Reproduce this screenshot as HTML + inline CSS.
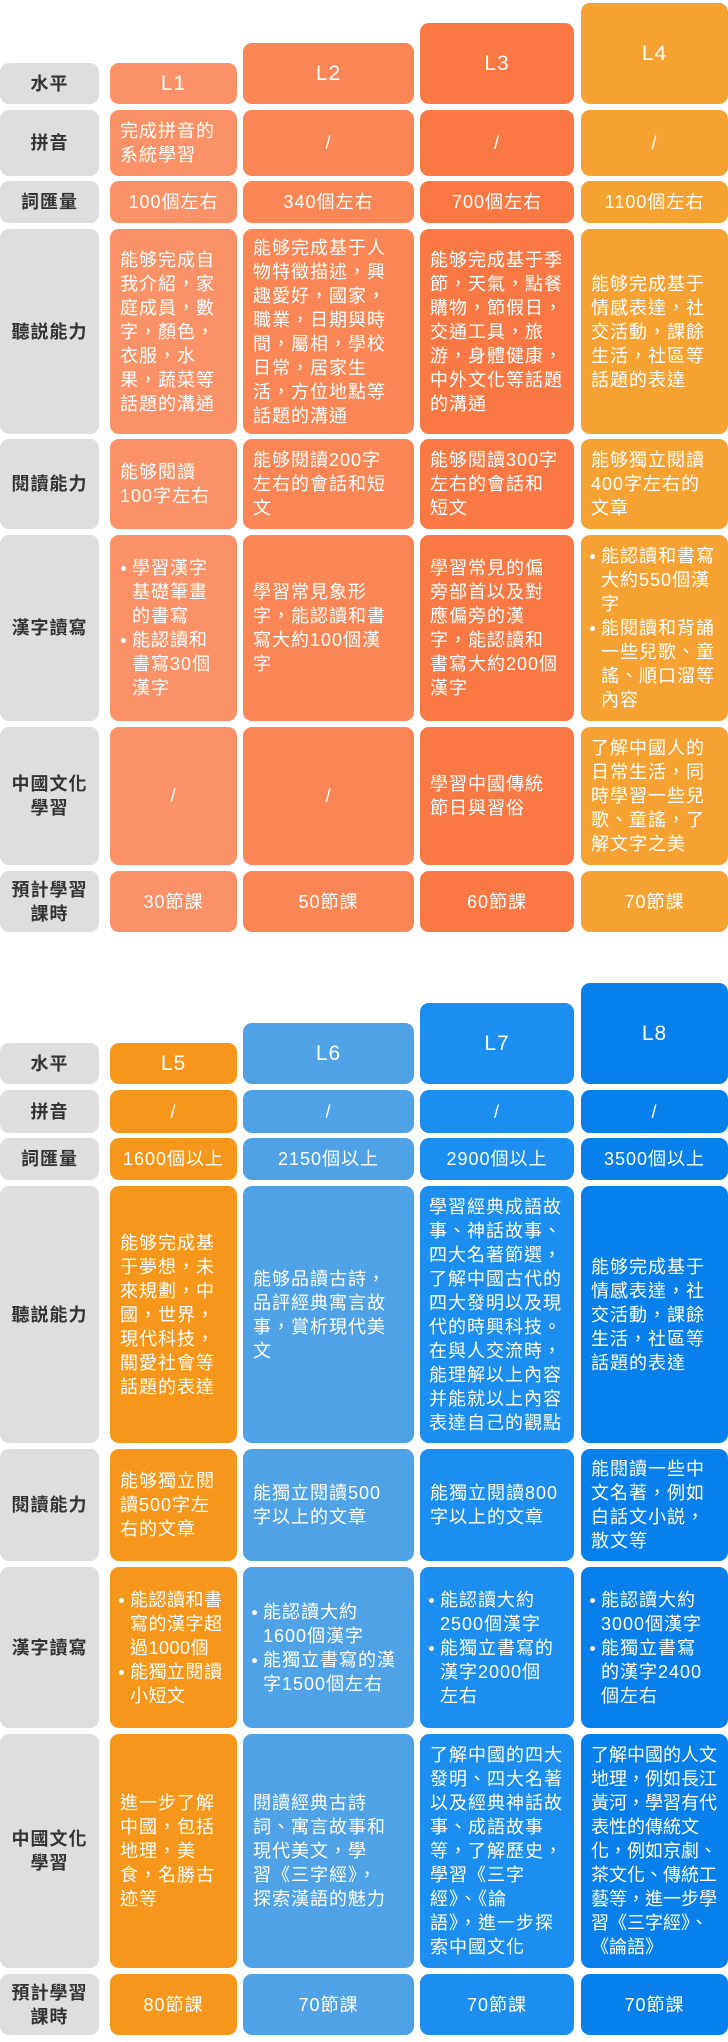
<!DOCTYPE html>
<html><head><meta charset="utf-8"><style>
*{margin:0;padding:0;box-sizing:border-box}
body{width:728px;height:2042px;background:#fff;position:relative;overflow:hidden;font-family:"Liberation Sans","Noto Sans CJK TC","Noto Sans CJK SC",sans-serif}
.c{position:absolute;border-radius:9px;display:flex;align-items:center;color:#fff;font-size:18px;line-height:24px;letter-spacing:1px;padding:0 8px 0 10px;white-space:nowrap}
.ctr{justify-content:center;text-align:center;padding:0}
.lab{background:#dedede;color:#333;justify-content:center;text-align:center;padding:0;font-size:18px;font-weight:600}
.hd{font-size:21px;justify-content:center;padding:0}
.a{background:#fb9166}.b{background:#fa8655}.d{background:#f97843}.e{background:#f6a232}
.f{background:#f6961a}.g{background:#4fa2e6}.h{background:#1b8ef0}.i{background:#0880ec}
ul{list-style:none}
li{position:relative;padding-left:12px}
li:before{content:"";position:absolute;left:1px;top:10px;width:5px;height:5px;border-radius:50%;background:#fff}
</style></head><body>
<!-- Table 1 -->
<div class="c lab" style="left:0;top:63px;width:99px;height:41px">水平</div>
<div class="c hd a" style="left:110px;top:63px;width:127px;height:41px">L1</div>
<div class="c hd b" style="left:243px;top:43px;width:171px;height:61px">L2</div>
<div class="c hd d" style="left:420px;top:23px;width:154px;height:81px">L3</div>
<div class="c hd e" style="left:581px;top:3px;width:147px;height:101px">L4</div>

<div class="c lab" style="left:0;top:110px;width:99px;height:66px">拼音</div>
<div class="c a" style="left:110px;top:110px;width:127px;height:66px">完成拼音的<br>系統學習</div>
<div class="c ctr b" style="left:243px;top:110px;width:171px;height:66px">/</div>
<div class="c ctr d" style="left:420px;top:110px;width:154px;height:66px">/</div>
<div class="c ctr e" style="left:581px;top:110px;width:147px;height:66px">/</div>

<div class="c lab" style="left:0;top:181px;width:99px;height:42px">詞匯量</div>
<div class="c ctr a" style="left:110px;top:181px;width:127px;height:42px">100個左右</div>
<div class="c ctr b" style="left:243px;top:181px;width:171px;height:42px">340個左右</div>
<div class="c ctr d" style="left:420px;top:181px;width:154px;height:42px">700個左右</div>
<div class="c ctr e" style="left:581px;top:181px;width:147px;height:42px">1100個左右</div>

<div class="c lab" style="left:0;top:229px;width:99px;height:205px">聽説能力</div>
<div class="c a" style="left:110px;top:229px;width:127px;height:205px">能够完成自<br>我介紹，家<br>庭成員，數<br>字，顏色，<br>衣服，水<br>果，蔬菜等<br>話題的溝通</div>
<div class="c b" style="left:243px;top:229px;width:171px;height:205px">能够完成基于人<br>物特徵描述，興<br>趣愛好，國家，<br>職業，日期與時<br>間，屬相，學校<br>日常，居家生<br>活，方位地點等<br>話題的溝通</div>
<div class="c d" style="left:420px;top:229px;width:154px;height:205px">能够完成基于季<br>節，天氣，點餐<br>購物，節假日，<br>交通工具，旅<br>游，身體健康，<br>中外文化等話題<br>的溝通</div>
<div class="c e" style="left:581px;top:229px;width:147px;height:205px">能够完成基于<br>情感表達，社<br>交活動，課餘<br>生活，社區等<br>話題的表達</div>

<div class="c lab" style="left:0;top:439px;width:99px;height:90px">閱讀能力</div>
<div class="c a" style="left:110px;top:439px;width:127px;height:90px">能够閱讀<br>100字左右</div>
<div class="c b" style="left:243px;top:439px;width:171px;height:90px">能够閱讀200字<br>左右的會話和短<br>文</div>
<div class="c d" style="left:420px;top:439px;width:154px;height:90px">能够閱讀300字<br>左右的會話和<br>短文</div>
<div class="c e" style="left:581px;top:439px;width:147px;height:90px">能够獨立閱讀<br>400字左右的<br>文章</div>

<div class="c lab" style="left:0;top:535px;width:99px;height:186px">漢字讀寫</div>
<div class="c a" style="left:110px;top:535px;width:127px;height:186px"><ul><li>學習漢字<br>基礎筆畫<br>的書寫</li><li>能認讀和<br>書寫30個<br>漢字</li></ul></div>
<div class="c b" style="left:243px;top:535px;width:171px;height:186px">學習常見象形<br>字，能認讀和書<br>寫大約100個漢<br>字</div>
<div class="c d" style="left:420px;top:535px;width:154px;height:186px">學習常見的偏<br>旁部首以及對<br>應偏旁的漢<br>字，能認讀和<br>書寫大約200個<br>漢字</div>
<div class="c e" style="left:581px;top:535px;width:147px;height:186px;padding-left:8px"><ul><li>能認讀和書寫<br>大約550個漢<br>字</li><li>能閱讀和背誦<br>一些兒歌、童<br>謠、順口溜等<br>內容</li></ul></div>

<div class="c lab" style="left:0;top:727px;width:99px;height:138px">中國文化<br>學習</div>
<div class="c ctr a" style="left:110px;top:727px;width:127px;height:138px">/</div>
<div class="c ctr b" style="left:243px;top:727px;width:171px;height:138px">/</div>
<div class="c d" style="left:420px;top:727px;width:154px;height:138px">學習中國傳統<br>節日與習俗</div>
<div class="c e" style="left:581px;top:727px;width:147px;height:138px">了解中國人的<br>日常生活，同<br>時學習一些兒<br>歌、童謠，了<br>解文字之美</div>

<div class="c lab" style="left:0;top:871px;width:99px;height:61px">預計學習<br>課時</div>
<div class="c ctr a" style="left:110px;top:871px;width:127px;height:61px">30節課</div>
<div class="c ctr b" style="left:243px;top:871px;width:171px;height:61px">50節課</div>
<div class="c ctr d" style="left:420px;top:871px;width:154px;height:61px">60節課</div>
<div class="c ctr e" style="left:581px;top:871px;width:147px;height:61px">70節課</div>

<!-- Table 2 -->
<div class="c lab" style="left:0;top:1043px;width:99px;height:41px">水平</div>
<div class="c hd f" style="left:110px;top:1043px;width:127px;height:41px">L5</div>
<div class="c hd g" style="left:243px;top:1023px;width:171px;height:61px">L6</div>
<div class="c hd h" style="left:420px;top:1003px;width:154px;height:81px">L7</div>
<div class="c hd i" style="left:581px;top:983px;width:147px;height:101px">L8</div>

<div class="c lab" style="left:0;top:1090px;width:99px;height:43px">拼音</div>
<div class="c ctr f" style="left:110px;top:1090px;width:127px;height:43px">/</div>
<div class="c ctr g" style="left:243px;top:1090px;width:171px;height:43px">/</div>
<div class="c ctr h" style="left:420px;top:1090px;width:154px;height:43px">/</div>
<div class="c ctr i" style="left:581px;top:1090px;width:147px;height:43px">/</div>

<div class="c lab" style="left:0;top:1138px;width:99px;height:42px">詞匯量</div>
<div class="c ctr f" style="left:110px;top:1138px;width:127px;height:42px">1600個以上</div>
<div class="c ctr g" style="left:243px;top:1138px;width:171px;height:42px">2150個以上</div>
<div class="c ctr h" style="left:420px;top:1138px;width:154px;height:42px">2900個以上</div>
<div class="c ctr i" style="left:581px;top:1138px;width:147px;height:42px">3500個以上</div>

<div class="c lab" style="left:0;top:1186px;width:99px;height:257px">聽説能力</div>
<div class="c f" style="left:110px;top:1186px;width:127px;height:257px">能够完成基<br>于夢想，未<br>來規劃，中<br>國，世界，<br>現代科技，<br>關愛社會等<br>話題的表達</div>
<div class="c g" style="left:243px;top:1186px;width:171px;height:257px">能够品讀古詩，<br>品評經典寓言故<br>事，賞析現代美<br>文</div>
<div class="c h" style="left:420px;top:1186px;width:154px;height:257px;padding-left:9px">學習經典成語故<br>事、神話故事、<br>四大名著節選，<br>了解中國古代的<br>四大發明以及現<br>代的時興科技。<br>在與人交流時，<br>能理解以上內容<br>并能就以上內容<br>表達自己的觀點</div>
<div class="c i" style="left:581px;top:1186px;width:147px;height:257px">能够完成基于<br>情感表達，社<br>交活動，課餘<br>生活，社區等<br>話題的表達</div>

<div class="c lab" style="left:0;top:1449px;width:99px;height:112px">閱讀能力</div>
<div class="c f" style="left:110px;top:1449px;width:127px;height:112px">能够獨立閱<br>讀500字左<br>右的文章</div>
<div class="c g" style="left:243px;top:1449px;width:171px;height:112px">能獨立閱讀500<br>字以上的文章</div>
<div class="c h" style="left:420px;top:1449px;width:154px;height:112px">能獨立閱讀800<br>字以上的文章</div>
<div class="c i" style="left:581px;top:1449px;width:147px;height:112px">能閱讀一些中<br>文名著，例如<br>白話文小説，<br>散文等</div>

<div class="c lab" style="left:0;top:1567px;width:99px;height:161px">漢字讀寫</div>
<div class="c f" style="left:110px;top:1567px;width:127px;height:161px;padding-left:8px;letter-spacing:0.5px"><ul><li>能認讀和書<br>寫的漢字超<br>過1000個</li><li>能獨立閱讀<br>小短文</li></ul></div>
<div class="c g" style="left:243px;top:1567px;width:171px;height:161px;padding-left:8px"><ul><li>能認讀大約<br>1600個漢字</li><li>能獨立書寫的漢<br>字1500個左右</li></ul></div>
<div class="c h" style="left:420px;top:1567px;width:154px;height:161px;padding-left:8px"><ul><li>能認讀大約<br>2500個漢字</li><li>能獨立書寫的<br>漢字2000個<br>左右</li></ul></div>
<div class="c i" style="left:581px;top:1567px;width:147px;height:161px;padding-left:8px"><ul><li>能認讀大約<br>3000個漢字</li><li>能獨立書寫<br>的漢字2400<br>個左右</li></ul></div>

<div class="c lab" style="left:0;top:1734px;width:99px;height:234px">中國文化<br>學習</div>
<div class="c f" style="left:110px;top:1734px;width:127px;height:234px">進一步了解<br>中國，包括<br>地理，美<br>食，名勝古<br>迹等</div>
<div class="c g" style="left:243px;top:1734px;width:171px;height:234px">閱讀經典古詩<br>詞、寓言故事和<br>現代美文，學<br>習《三字經》，<br>探索漢語的魅力</div>
<div class="c h" style="left:420px;top:1734px;width:154px;height:234px">了解中國的四大<br>發明、四大名著<br>以及經典神話故<br>事、成語故事<br>等，了解歷史，<br>學習《三字<br>經》、《論<br>語》，進一步探<br>索中國文化</div>
<div class="c i" style="left:581px;top:1734px;width:147px;height:234px;letter-spacing:0">了解中國的人文<br>地理，例如長江<br>黃河，學習有代<br>表性的傳統文<br>化，例如京劇、<br>茶文化、傳統工<br>藝等，進一步學<br>習《三字經》、<br>《論語》</div>

<div class="c lab" style="left:0;top:1974px;width:99px;height:61px">預計學習<br>課時</div>
<div class="c ctr f" style="left:110px;top:1974px;width:127px;height:61px">80節課</div>
<div class="c ctr g" style="left:243px;top:1974px;width:171px;height:61px">70節課</div>
<div class="c ctr h" style="left:420px;top:1974px;width:154px;height:61px">70節課</div>
<div class="c ctr i" style="left:581px;top:1974px;width:147px;height:61px">70節課</div>
</body></html>
